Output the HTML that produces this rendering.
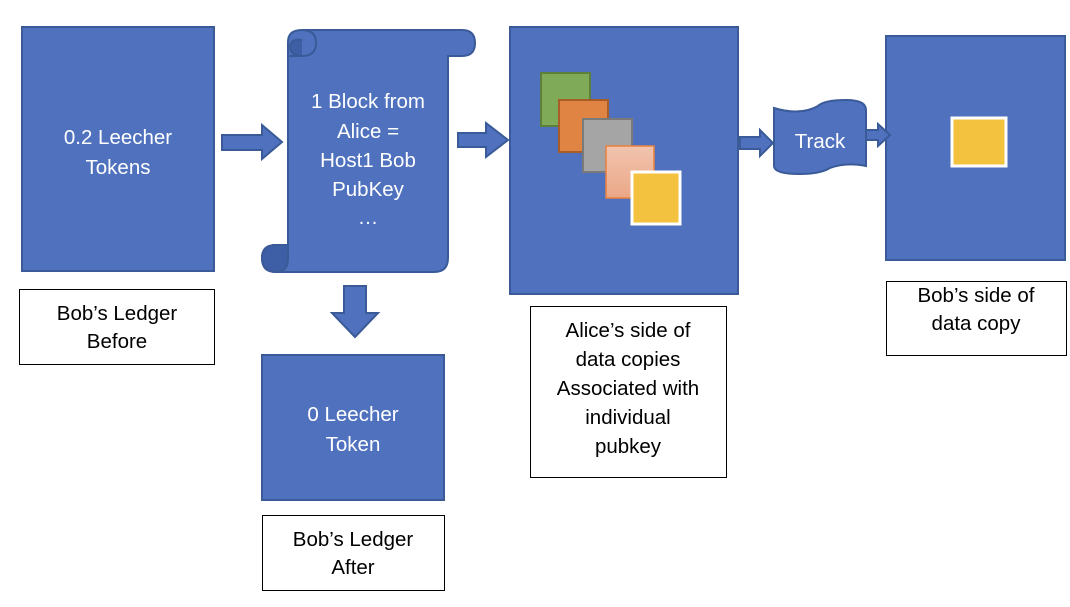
<!DOCTYPE html>
<html><head><meta charset="utf-8"><style>
body{margin:0;background:#fff;width:1070px;height:602px;overflow:hidden}
svg text{font-family:"Liberation Sans",sans-serif;font-size:20.5px;text-anchor:middle}
.w{fill:#fff}.k{fill:#000}
</style></head><body>
<svg width="1070" height="602" viewBox="0 0 1070 602">
<g fill="#4F71BE" stroke="#3A5A98" stroke-width="2">
<rect x="22" y="27" width="192" height="244"/>
<rect x="262" y="355" width="182" height="145"/>
<rect x="510" y="27" width="228" height="267"/>
<rect x="886" y="36" width="179" height="224"/>
<path d="M222 135 H262 V125 L282 142 L262 159 V150 H222 Z"/>
<path d="M458 133 H486 V123 L508 140 L486 157 V147 H458 Z"/>
<path d="M740 137 H760 V130 L773 143 L760 156 V149 H740 Z"/>
<path d="M866 130 H878 V124 L890 135 L878 146 V140 H866 Z"/>
<path d="M344 286 H366 V313 H378 L355 337 L332 313 H344 Z"/>
<path d="M288 42 Q288 30 302 30 H462 Q475 30 475 43 Q475 56 462 56 H448 V258 Q448 272 434 272 H276 Q262 272 262 258 Q262 245 276 245 H288 Z"/>
<path d="M302 30 Q316 30 316 43 Q316 56 302 56 H288" fill="none"/>
<path d="M302 56 Q290 56 290 46 Q292 38 302 40" fill="#3E5EA6"/>
<path d="M288 245 V258 Q288 272 276 272 Q262 272 262 258 Q262 245 276 245 Z" fill="#3E5EA6"/>
<path d="M774 108 Q800 116 818 106 Q824 100 846 100 Q866 100 866 110 V166 Q846 162 830 168 Q820 174 800 174 Q774 174 774 166 Z"/>
</g>
<rect x="541" y="73" width="49" height="53" fill="#7FAA57" stroke="#5C7F3A" stroke-width="2"/>
<rect x="559" y="100" width="49" height="52" fill="#DF8443" stroke="#A85C28" stroke-width="2"/>
<rect x="583" y="119" width="49" height="53" fill="#A5A5A5" stroke="#7A7A7A" stroke-width="2"/>
<defs><linearGradient id="pg" x1="0" y1="0" x2="0" y2="1"><stop offset="0" stop-color="#F1C4AE"/><stop offset="1" stop-color="#EBA787"/></linearGradient></defs>
<rect x="606" y="146" width="48" height="52" fill="url(#pg)" stroke="#E9803E" stroke-width="1.5"/>
<rect x="632" y="172" width="48" height="52" fill="#F3C23F" stroke="#fff" stroke-width="3"/>
<rect x="952" y="118" width="54" height="48" fill="#F3C23F" stroke="#fff" stroke-width="3"/>
<g fill="#fff" stroke="#000" stroke-width="1">
<rect x="19.5" y="289.5" width="195" height="75"/>
<rect x="262.5" y="515.5" width="182" height="75"/>
<rect x="530.5" y="306.5" width="196" height="171"/>
<rect x="886.5" y="281.5" width="180" height="74"/>
</g>
<text class="w" x="118" y="144">0.2 Leecher</text>
<text class="w" x="118" y="174">Tokens</text>
<text class="w" x="368" y="108">1 Block from</text>
<text class="w" x="368" y="138">Alice =</text>
<text class="w" x="368" y="167">Host1 Bob</text>
<text class="w" x="368" y="196">PubKey</text>
<text class="w" x="368" y="224">…</text>
<text class="w" x="353" y="421">0 Leecher</text>
<text class="w" x="353" y="451">Token</text>
<text class="w" x="820" y="148">Track</text>
<text class="k" x="117" y="320">Bob’s Ledger</text>
<text class="k" x="117" y="348">Before</text>
<text class="k" x="353" y="546">Bob’s Ledger</text>
<text class="k" x="353" y="574">After</text>
<text class="k" x="628" y="337">Alice’s side of</text>
<text class="k" x="628" y="366">data copies</text>
<text class="k" x="628" y="395">Associated with</text>
<text class="k" x="628" y="424">individual</text>
<text class="k" x="628" y="453">pubkey</text>
<text class="k" x="976" y="302">Bob’s side of</text>
<text class="k" x="976" y="330">data copy</text>
</svg>
</body></html>
